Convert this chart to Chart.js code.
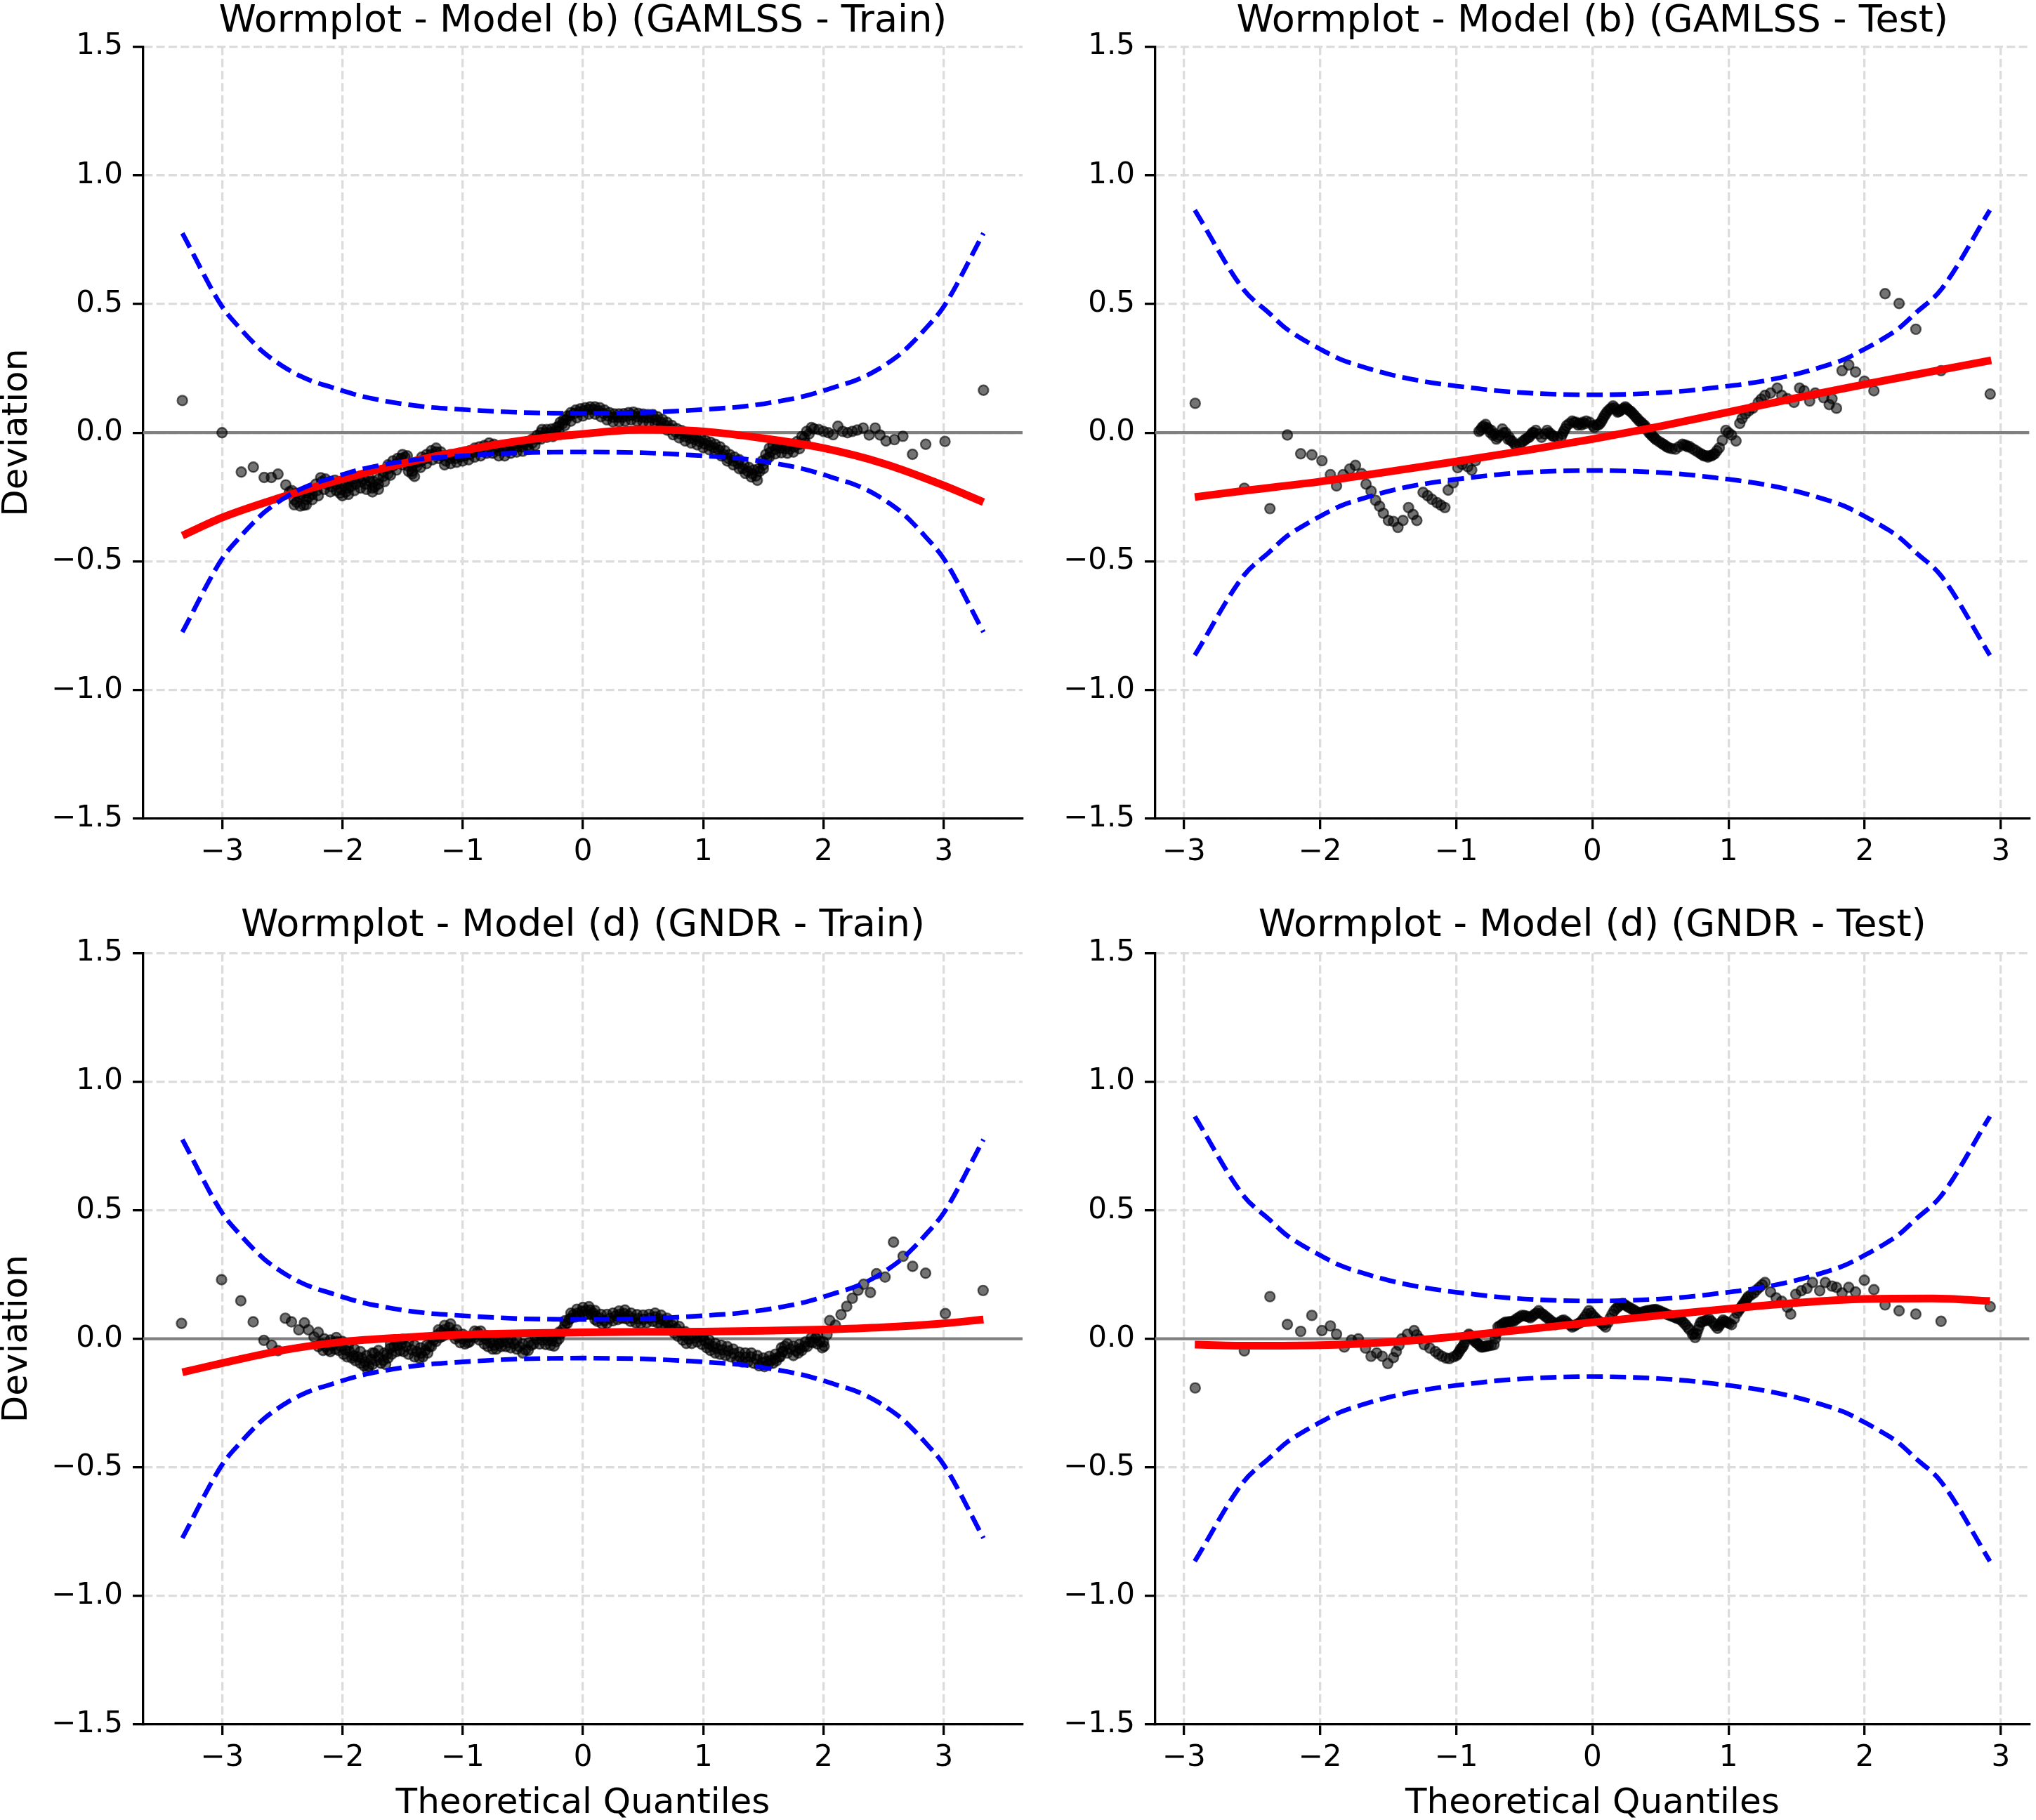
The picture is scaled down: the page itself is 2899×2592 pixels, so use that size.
<!DOCTYPE html>
<html>
<head>
<meta charset="utf-8">
<script src="https://cdn.jsdelivr.net/npm/chart.js@4.4.1/dist/chart.umd.min.js"></script>
<style>
html,body{margin:0;padding:0;background:#ffffff;}
#wrap{position:relative;width:2899px;height:2592px;background:#ffffff;overflow:hidden;}
canvas{position:absolute;display:block;}
</style>
</head>
<body>
<div id="wrap">
<canvas id="c0" width="1480" height="1290" style="left:0px;top:0px;width:1480px;height:1290px"></canvas>
<canvas id="c1" width="1419" height="1290" style="left:1480px;top:0px;width:1419px;height:1290px"></canvas>
<canvas id="c2" width="1480" height="1302" style="left:0px;top:1290px;width:1480px;height:1302px"></canvas>
<canvas id="c3" width="1419" height="1302" style="left:1480px;top:1290px;width:1419px;height:1302px"></canvas>
</div>
<script>
// ---------------- DATA ----------------
const panelTitles = [
  'Wormplot - Model (b) (GAMLSS - Train)',
  'Wormplot - Model (b) (GAMLSS - Test)',
  'Wormplot - Model (d) (GNDR - Train)',
  'Wormplot - Model (d) (GNDR - Test)'
];
const yAxisTitle = 'Deviation';
const xAxisTitle = 'Theoretical Quantiles';

const xTickValues = [-3, -2, -1, 0, 1, 2, 3];
const xTickLabels = ['\u22123', '\u22122', '\u22121', '0', '1', '2', '3'];
const yTickValues = [-1.5, -1.0, -0.5, 0, 0.5, 1.0, 1.5];
const yTickLabels = ['\u22121.5', '\u22121.0', '\u22120.5', '0.0', '0.5', '1.0', '1.5'];

const xRangeTrain = [-3.655, 3.655];
const xRangeTest = [-3.21, 3.21];
const yRange = [-1.5, 1.5];

// worm points [theoretical quantile, deviation]
const gamlssTrainPoints = [
[-3.33,0.125],[-3.00,0.0],[-2.84,-0.153],[-2.74,-0.134],[-2.65,-0.174],[-2.59,-0.174],[-2.535,-0.161],[-2.47,-0.203],
[-2.44,-0.23],[-2.40,-0.26],[-2.38,-0.27],[-2.36,-0.25],[-2.32,-0.282],[-2.30,-0.26],[-2.28,-0.25],[-2.25,-0.24],[-2.21,-0.225],[-2.17,-0.19],[-2.13,-0.20],[-2.09,-0.21],
[-2.05,-0.20],[-2.02,-0.235],[-2.01,-0.22],[-1.97,-0.23],[-1.95,-0.215],[-1.93,-0.21],[-1.89,-0.20],[-1.85,-0.19],[-1.81,-0.20],[-1.77,-0.19],[-1.75,-0.215],[-1.73,-0.21],
[-1.70,-0.20],[-1.66,-0.17],[-1.62,-0.14],[-1.62,-0.16],[-1.58,-0.13],[-1.55,-0.12],[-1.51,-0.10],[-1.48,-0.095],[-1.45,-0.13],[-1.42,-0.15],[-1.42,-0.16],[-1.38,-0.13],
[-1.34,-0.11],[-1.30,-0.10],[-1.26,-0.085],[-1.22,-0.075],[-1.18,-0.09],[-1.14,-0.11],[-1.10,-0.10],[-1.06,-0.10],[-1.02,-0.095],[-0.98,-0.09],[-0.94,-0.085],[-0.90,-0.075],
[-0.86,-0.07],[-0.82,-0.065],[-0.78,-0.055],[-0.74,-0.06],[-0.70,-0.07],[-0.66,-0.072],[-0.62,-0.065],[-0.58,-0.06],[-0.54,-0.055],[-0.50,-0.055],[-0.46,-0.05],[-0.42,-0.04],
[-0.38,-0.025],[-0.35,0.0],[-0.31,0.0],[-0.27,0.0],[-0.23,0.005],[-0.20,0.025],[-0.17,0.035],[-0.14,0.05],[-0.11,0.065],[-0.07,0.075],[-0.03,0.08],[0.01,0.085],
[0.05,0.09],[0.09,0.09],[0.13,0.085],[0.17,0.075],[0.21,0.065],[0.25,0.06],[0.29,0.06],[0.33,0.06],[0.37,0.065],[0.41,0.068],[0.45,0.062],[0.49,0.06],
[0.53,0.058],[0.57,0.058],[0.61,0.05],[0.65,0.04],[0.69,0.028],[0.73,0.015],[0.77,0.003],[0.81,-0.005],[0.85,-0.015],[0.89,-0.022],[0.93,-0.027],[0.97,-0.035],
[1.01,-0.043],[1.05,-0.05],[1.09,-0.058],[1.13,-0.068],[1.17,-0.085],[1.21,-0.10],[1.25,-0.11],[1.29,-0.12],[1.33,-0.14],[1.37,-0.15],[1.41,-0.16],[1.44,-0.168],
[1.47,-0.15],[1.50,-0.125],[1.53,-0.10],[1.56,-0.075],[1.60,-0.065],[1.64,-0.06],[1.68,-0.062],[1.72,-0.064],[1.76,-0.055],[1.80,-0.045],[1.84,-0.02],[1.88,-0.005],
[1.92,0.015],[1.96,0.012],[2.00,0.005],[2.04,0.0],[2.08,-0.008],[2.12,0.025],[2.16,0.005],[2.20,0.0],[2.24,0.005],[2.28,0.01],[2.33,0.018],[2.38,-0.009],
[2.43,0.018],[2.47,-0.009],[2.52,-0.032],[2.59,-0.027],[2.66,-0.014],
[2.74,-0.084],[2.85,-0.045],[3.01,-0.034],[3.33,0.165]
];
// upper and lower edges of the dense worm body
const gamlssTrainPointsEdge = [
[-2.42,-0.225],[-2.38,-0.235],[-2.34,-0.24],[-2.30,-0.235],[-2.26,-0.22],[-2.22,-0.20],[-2.18,-0.175],[-2.14,-0.18],[-2.10,-0.19],[-2.06,-0.185],
[-2.02,-0.195],[-1.98,-0.205],[-1.94,-0.19],[-1.90,-0.18],[-1.86,-0.175],[-1.82,-0.18],[-1.78,-0.175],[-1.74,-0.19],[-1.70,-0.18],[-1.66,-0.15],
[-1.62,-0.125],[-1.58,-0.11],[-1.54,-0.10],[-1.50,-0.085],[-1.46,-0.09],[-1.42,-0.13],[-1.38,-0.115],[-1.34,-0.095],[-1.30,-0.085],[-1.26,-0.07],
[-1.22,-0.06],[-1.18,-0.075],[-1.14,-0.09],[-1.10,-0.085],[-1.06,-0.085],[-1.02,-0.08],[-0.98,-0.075],[-0.94,-0.07],[-0.90,-0.06],[-0.86,-0.055],
[-0.82,-0.05],[-0.78,-0.04],[-0.74,-0.045],[-0.70,-0.055],[-0.66,-0.058],[-0.62,-0.05],[-0.58,-0.045],[-0.54,-0.04],[-0.50,-0.04],[-0.46,-0.035],
[-0.42,-0.025],[-0.38,-0.01],[-0.34,0.012],[-0.30,0.012],[-0.26,0.014],[-0.22,0.02],[-0.19,0.04],[-0.16,0.05],[-0.13,0.065],[-0.10,0.078],
[-0.06,0.088],[-0.02,0.093],[0.02,0.097],[0.06,0.10],[0.10,0.10],[0.14,0.097],[0.18,0.088],[0.22,0.078],[0.26,0.073],[0.30,0.073],
[0.34,0.074],[0.38,0.078],[0.42,0.08],[0.46,0.075],[0.50,0.072],[0.54,0.07],[0.58,0.07],[0.62,0.062],[0.66,0.052],[0.70,0.04],
[0.74,0.028],[0.78,0.016],[0.82,0.008],[0.86,-0.002],[0.90,-0.01],[0.94,-0.015],[0.98,-0.022],[1.02,-0.03],[1.06,-0.037],[1.10,-0.045],
[1.14,-0.055],[1.18,-0.07],[1.22,-0.085],[1.26,-0.095],[1.30,-0.105],[1.34,-0.125],[1.38,-0.135],[1.42,-0.145],[1.46,-0.14],[1.49,-0.11],
[1.52,-0.085],[1.55,-0.06],[1.58,-0.05],[1.62,-0.048],[1.66,-0.048],[1.70,-0.05],[1.74,-0.045],[1.78,-0.035],[1.82,-0.015],[1.86,0.005],[1.90,0.02]
];
const gamlssTrainPointsLow = [
[-2.40,-0.28],[-2.35,-0.285],[-2.30,-0.28],[-2.25,-0.26],[-2.20,-0.245],[-2.15,-0.22],[-2.10,-0.23],[-2.05,-0.225],[-2.00,-0.245],[-1.95,-0.24],
[-1.90,-0.225],[-1.85,-0.215],[-1.80,-0.22],[-1.75,-0.23],[-1.70,-0.22],[-1.65,-0.19],[-1.60,-0.165],[-1.55,-0.145],[-1.50,-0.125],[-1.45,-0.15],
[-1.40,-0.17],[-1.35,-0.135],[-1.30,-0.12],[-1.25,-0.105],[-1.20,-0.10],[-1.15,-0.125],[-1.10,-0.12],[-1.05,-0.115],[-1.00,-0.11],[-0.95,-0.105],
[-0.90,-0.095],[-0.85,-0.09],[-0.80,-0.08],[-0.75,-0.08],[-0.70,-0.09],[-0.65,-0.09],[-0.60,-0.08],[-0.55,-0.075],[-0.50,-0.072],[-0.45,-0.065],
[-0.40,-0.05],[-0.35,-0.025],[-0.30,-0.018],[-0.25,-0.015],[-0.20,0.005],[-0.15,0.028],[-0.10,0.045],[-0.05,0.058],[0.00,0.065],[0.05,0.072],
[0.10,0.072],[0.15,0.062],[0.20,0.05],[0.25,0.042],[0.30,0.042],[0.35,0.045],[0.40,0.05],[0.45,0.045],[0.50,0.042],[0.55,0.04],
[0.60,0.035],[0.65,0.022],[0.70,0.01],[0.75,-0.008],[0.80,-0.02],[0.85,-0.032],[0.90,-0.04],[0.95,-0.047],[1.00,-0.058],[1.05,-0.066],
[1.10,-0.075],[1.15,-0.09],[1.20,-0.11],[1.25,-0.125],[1.30,-0.14],[1.35,-0.158],[1.40,-0.172],[1.45,-0.185],[1.50,-0.14],[1.55,-0.095],
[1.60,-0.082],[1.65,-0.078],[1.70,-0.08],[1.75,-0.075],[1.80,-0.062],[1.85,-0.04]
];

const gamlssTestPoints = [
[-2.917,0.114],[-2.556,-0.216],[-2.368,-0.295],[-2.24,-0.009],[-2.142,-0.082],[-2.06,-0.086],[-1.986,-0.109],[-1.924,-0.163],[-1.879,-0.207],[-1.83,-0.163],
[-1.781,-0.141],[-1.74,-0.127],[-1.695,-0.159],[-1.662,-0.20],[-1.625,-0.227],[-1.592,-0.263],[-1.563,-0.286],[-1.535,-0.313],[-1.498,-0.341],[-1.461,-0.345],
[-1.428,-0.368],[-1.391,-0.341],[-1.35,-0.291],[-1.317,-0.318],[-1.289,-0.341],[-1.243,-0.232],[-1.21,-0.245],[-1.178,-0.259],[-1.141,-0.272],[-1.112,-0.282],
[-1.083,-0.291],[-1.059,-0.223],[-1.022,-0.195],[-0.989,-0.136],[-0.956,-0.123],[-0.915,-0.132],[-0.886,-0.145],[-0.858,-0.109],[-0.833,0.005],[-0.81,0.02],
[-0.784,0.032],[-0.763,0.015],[-0.743,0.009],[-0.718,-0.005],[-0.693,-0.018],[-0.661,0.014],[-0.636,0.0],[-0.611,-0.018],[-0.585,-0.035],[-0.558,-0.050],
[-0.517,-0.036],[-0.49,-0.025],[-0.464,-0.018],[-0.44,0.0],[-0.415,0.009],[-0.373,-0.018],[-0.332,0.009],[-0.305,-0.005],[-0.283,-0.014],[-0.23,-0.018],
[-0.21,0.005],[-0.189,0.027],[-0.148,0.045],[-0.12,0.04],[-0.094,0.036],[-0.07,0.04],[-0.045,0.045],[0.004,0.027],[0.03,0.03],[0.057,0.036],
[0.078,0.055],[0.098,0.073],[0.125,0.09],[0.152,0.104],[0.175,0.09],[0.193,0.082],[0.215,0.09],[0.242,0.10],[0.262,0.09],[0.283,0.082],
[0.308,0.068],[0.332,0.054],[0.36,0.04],[0.386,0.027],[0.405,0.01],[0.427,-0.005],[0.448,-0.016],[0.468,-0.027],[0.509,-0.041],[0.535,-0.05],
[0.562,-0.059],[0.611,-0.064],[0.661,-0.045],[0.69,-0.05],[0.714,-0.054],[0.755,-0.068],[0.796,-0.082],[0.82,-0.09],[0.849,-0.095],[0.875,-0.09],
[0.899,-0.082],[0.932,-0.059],[0.981,0.009],[1.022,-0.009],[1.055,-0.032],[1.083,0.036],[1.10,0.055],[1.124,0.073],[1.15,0.085],[1.178,0.095],
[1.219,0.118],[1.24,0.13],[1.268,0.145],[1.309,0.154],[1.358,0.173],[1.391,0.145],[1.432,0.132],[1.481,0.118],[1.522,0.173],[1.555,0.163],
[1.596,0.123],[1.637,0.154],[1.699,0.136],[1.74,0.109],[1.76,0.132],[1.793,0.095],[1.834,0.241],[1.883,0.263],[1.933,0.236],[1.998,0.200],
[2.068,0.163],[2.15,0.540],[2.253,0.502],[2.376,0.402],[2.561,0.241],[2.922,0.150]
];
const gamlssTestPointsEdge = [
[-0.82,0.01],[-0.80,0.025],[-0.775,0.02],[-0.75,0.0],[-0.73,-0.01],[-0.705,-0.025],[-0.68,-0.01],[-0.65,0.0],[-0.62,-0.025],[-0.60,-0.03],
[-0.57,-0.045],[-0.535,-0.045],[-0.50,-0.03],[-0.475,-0.02],[-0.45,-0.008],[-0.43,0.0],[-0.395,-0.005],[-0.35,-0.005],[-0.32,0.0],[-0.295,-0.012],
[-0.255,-0.02],[-0.22,-0.005],[-0.20,0.015],[-0.17,0.035],[-0.135,0.04],[-0.105,0.03],[-0.08,0.03],[-0.055,0.035],[-0.02,0.04],[0.015,0.02],
[0.045,0.03],[0.068,0.045],[0.088,0.065],[0.11,0.082],[0.138,0.095],[0.163,0.097],[0.185,0.08],[0.205,0.085],[0.23,0.095],[0.252,0.095],
[0.273,0.085],[0.295,0.075],[0.32,0.06],[0.345,0.045],[0.373,0.032],[0.395,0.018],[0.416,0.0],[0.438,-0.012],[0.458,-0.022],[0.49,-0.035],
[0.52,-0.045],[0.548,-0.055],[0.585,-0.062],[0.635,-0.055],[0.675,-0.048],[0.70,-0.055],[0.735,-0.062],[0.775,-0.075],[0.808,-0.086],[0.835,-0.09],
[0.862,-0.09],[0.887,-0.085],[0.915,-0.07],[0.955,-0.03],[1.0,0.0]
];

const gndrTrainPoints = [
[-3.337,0.060],[-3.004,0.230],[-2.844,0.148],[-2.741,0.066],[-2.652,-0.006],[-2.587,-0.025],[-2.535,-0.046],[-2.474,0.080],[-2.423,0.066],[-2.362,0.035],
[-2.315,0.062],[-2.282,0.035],[-2.235,0.007],[-2.174,-0.020],[-2.14,-0.03],[-2.118,-0.043],[-2.08,-0.025],[-2.048,-0.011],[-2.01,-0.03],[-1.977,-0.043],
[-1.94,-0.05],[-1.907,-0.066],[-1.87,-0.07],[-1.837,-0.075],[-1.81,-0.09],[-1.781,-0.107],[-1.76,-0.08],[-1.734,-0.056],[-1.70,-0.07],[-1.659,-0.084],
[-1.63,-0.06],[-1.603,-0.038],[-1.57,-0.03],[-1.54,-0.025],[-1.509,-0.020],[-1.47,-0.03],[-1.424,-0.043],[-1.38,-0.05],[-1.345,-0.056],[-1.31,-0.045],
[-1.275,-0.029],[-1.24,-0.005],[-1.21,0.015],[-1.181,0.026],[-1.15,0.035],[-1.111,0.044],[-1.075,0.025],[-1.04,0.007],[-1.0,0.0],[-0.956,-0.015],
[-0.92,0.01],[-0.876,0.026],[-0.84,0.01],[-0.806,-0.002],[-0.77,-0.015],[-0.736,-0.025],[-0.70,-0.02],[-0.665,-0.011],[-0.62,-0.015],[-0.572,-0.020],
[-0.53,-0.03],[-0.478,-0.043],[-0.43,-0.025],[-0.384,-0.002],[-0.34,-0.005],[-0.291,-0.006],[-0.255,-0.008],[-0.22,-0.011],[-0.185,0.02],[-0.15,0.053],
[-0.115,0.075],[-0.08,0.094],[-0.045,0.10],[-0.009,0.107],[0.025,0.11],[0.061,0.112],[0.085,0.10],[0.108,0.089],[0.14,0.08],[0.178,0.071],
[0.225,0.08],[0.272,0.089],[0.307,0.095],[0.342,0.098],[0.377,0.09],[0.412,0.080],[0.46,0.078],[0.506,0.076],[0.553,0.08],[0.60,0.085],
[0.635,0.078],[0.67,0.071],[0.705,0.062],[0.74,0.053],[0.775,0.04],[0.81,0.026],[0.845,0.012],[0.881,-0.002],[0.93,0.003],[0.975,0.007],
[1.01,-0.007],[1.045,-0.020],[1.08,-0.03],[1.115,-0.038],[1.16,-0.043],[1.209,-0.047],[1.256,-0.058],[1.303,-0.070],[1.35,-0.072],[1.396,-0.070],
[1.443,-0.08],[1.49,-0.093],[1.525,-0.088],[1.56,-0.084],[1.595,-0.078],[1.631,-0.070],[1.655,-0.05],[1.678,-0.029],[1.725,-0.04],[1.771,-0.047],
[1.805,-0.038],[1.842,-0.029],[1.89,-0.012],[1.935,0.003],[1.97,-0.01],[2.006,-0.029],[2.029,0.016],[2.052,0.071],[2.099,0.053],[2.146,0.094],
[2.193,0.126],[2.24,0.158],[2.287,0.189],[2.334,0.212],[2.39,0.180],[2.441,0.253],[2.512,0.240],[2.582,0.376],[2.662,0.321],[2.741,0.282],
[2.849,0.255],[3.013,0.098],[3.327,0.188]
];
const gndrTrainPointsEdge = [
[-2.20,-0.03],[-2.16,-0.045],[-2.10,-0.05],[-2.06,-0.04],[-2.03,-0.045],[-1.99,-0.06],[-1.96,-0.07],[-1.92,-0.075],[-1.89,-0.085],[-1.85,-0.095],
[-1.82,-0.105],[-1.79,-0.12],[-1.75,-0.10],[-1.72,-0.085],[-1.68,-0.095],[-1.64,-0.10],[-1.62,-0.075],[-1.59,-0.06],[-1.55,-0.05],[-1.52,-0.045],
[-1.49,-0.05],[-1.45,-0.06],[-1.40,-0.07],[-1.36,-0.075],[-1.33,-0.07],[-1.29,-0.055],[-1.26,-0.03],[-1.22,-0.01],[-1.19,0.005],[-1.165,0.01],
[-1.13,0.02],[-1.09,0.02],[-1.06,0.0],[-1.02,-0.015],[-0.98,-0.02],[-0.94,-0.01],[-0.90,0.005],[-0.86,-0.005],[-0.82,-0.02],[-0.79,-0.03],
[-0.75,-0.04],[-0.72,-0.04],[-0.68,-0.03],[-0.64,-0.03],[-0.60,-0.035],[-0.55,-0.04],[-0.50,-0.055],[-0.455,-0.045],[-0.41,-0.02],[-0.36,-0.02],
[-0.31,-0.022],[-0.27,-0.025],[-0.24,-0.028],[-0.20,0.0],[-0.17,0.035],[-0.13,0.06],[-0.10,0.08],[-0.06,0.085],[-0.03,0.09],[0.01,0.093],
[0.04,0.095],[0.07,0.095],[0.10,0.075],[0.12,0.068],[0.16,0.058],[0.20,0.06],[0.25,0.07],[0.29,0.075],[0.325,0.08],[0.36,0.078],
[0.395,0.068],[0.44,0.062],[0.48,0.06],[0.53,0.062],[0.58,0.068],[0.62,0.062],[0.65,0.055],[0.69,0.045],[0.72,0.035],[0.76,0.022],
[0.79,0.01],[0.83,-0.005],[0.86,-0.018],[0.905,-0.018],[0.95,-0.012],[0.99,-0.022],[1.03,-0.035],[1.06,-0.045],[1.10,-0.055],[1.14,-0.06],
[1.185,-0.065],[1.23,-0.07],[1.28,-0.085],[1.325,-0.09],[1.37,-0.09],[1.42,-0.095],[1.465,-0.105],[1.51,-0.108],[1.54,-0.10],[1.58,-0.095],
[1.61,-0.085],[1.64,-0.07],[1.665,-0.05],[1.70,-0.055],[1.75,-0.065],[1.79,-0.055],[1.82,-0.045],[1.865,-0.03],[1.91,-0.015],[1.95,-0.02],[1.99,-0.035]
];
const gndrTrainPointsHigh = [
[-2.20,0.025],[-2.15,0.0],[-2.10,-0.005],[-2.05,0.005],[-2.00,-0.01],[-1.95,-0.025],[-1.90,-0.04],[-1.85,-0.05],[-1.80,-0.065],[-1.75,-0.055],
[-1.70,-0.045],[-1.65,-0.055],[-1.60,-0.02],[-1.55,-0.008],[-1.50,-0.002],[-1.45,-0.012],[-1.40,-0.025],[-1.35,-0.035],[-1.30,-0.025],[-1.25,0.005],
[-1.20,0.035],[-1.15,0.052],[-1.10,0.058],[-1.05,0.035],[-1.00,0.018],[-0.95,0.005],[-0.90,0.03],[-0.85,0.03],[-0.80,0.012],[-0.75,0.0],
[-0.70,-0.002],[-0.65,0.005],[-0.60,0.0],[-0.55,-0.005],[-0.50,-0.02],[-0.45,-0.015],[-0.40,0.012],[-0.35,0.012],[-0.30,0.01],[-0.25,0.008],
[-0.20,0.025],[-0.15,0.07],[-0.10,0.10],[-0.05,0.115],[0.00,0.122],[0.05,0.125],[0.10,0.11],[0.15,0.095],[0.20,0.095],[0.25,0.10],
[0.30,0.108],[0.35,0.112],[0.40,0.10],[0.45,0.094],[0.50,0.092],[0.55,0.095],[0.60,0.10],[0.65,0.092],[0.70,0.08],[0.75,0.068],
[0.80,0.048],[0.85,0.028],[0.90,0.015],[0.95,0.02],[1.00,0.01],[1.05,-0.005],[1.10,-0.018],[1.15,-0.025],[1.20,-0.03],[1.25,-0.04],
[1.30,-0.052],[1.35,-0.055],[1.40,-0.055],[1.45,-0.065],[1.50,-0.075],[1.55,-0.068],[1.60,-0.06],[1.65,-0.035],[1.70,-0.02],[1.75,-0.028],
[1.80,-0.022],[1.85,-0.012],[1.90,0.005],[1.95,0.015],[2.00,-0.012]
];

const gndrTestPoints = [
[-2.917,-0.191],[-2.556,-0.047],[-2.368,0.164],[-2.24,0.056],[-2.142,0.029],[-2.06,0.091],[-1.986,0.032],[-1.924,0.050],[-1.879,0.018],[-1.822,-0.032],
[-1.769,-0.005],[-1.719,0.0],[-1.666,-0.036],[-1.625,-0.068],[-1.584,-0.055],[-1.543,-0.068],[-1.502,-0.096],[-1.461,-0.073],[-1.44,-0.050],[-1.42,-0.025],
[-1.399,0.0],[-1.358,0.018],[-1.309,0.032],[-1.29,0.015],[-1.268,0.0],[-1.235,-0.023],[-1.194,-0.036],[-1.153,-0.050],[-1.13,-0.06],[-1.104,-0.068],
[-1.075,-0.075],[-1.05,-0.077],[-1.02,-0.07],[-0.989,-0.059],[-0.968,-0.04],[-0.948,-0.027],[-0.928,0.0],[-0.907,0.018],[-0.886,0.005],[-0.866,-0.009],
[-0.84,-0.02],[-0.817,-0.032],[-0.79,-0.03],[-0.763,-0.027],[-0.722,-0.023],[-0.705,0.02],[-0.693,0.046],[-0.665,0.055],[-0.64,0.064],[-0.61,0.066],
[-0.579,0.068],[-0.55,0.08],[-0.517,0.091],[-0.485,0.088],[-0.455,0.082],[-0.425,0.095],[-0.394,0.109],[-0.362,0.095],[-0.332,0.082],[-0.30,0.068],
[-0.271,0.055],[-0.24,0.065],[-0.209,0.073],[-0.178,0.06],[-0.148,0.046],[-0.118,0.055],[-0.086,0.064],[-0.055,0.085],[-0.025,0.109],[0.005,0.09],
[0.037,0.073],[0.068,0.06],[0.098,0.046],[0.13,0.08],[0.16,0.109],[0.19,0.125],[0.222,0.137],[0.25,0.128],[0.283,0.118],[0.315,0.108],
[0.345,0.100],[0.375,0.105],[0.406,0.109],[0.437,0.112],[0.468,0.114],[0.5,0.107],[0.529,0.100],[0.56,0.093],[0.591,0.087],[0.622,0.08],
[0.652,0.073],[0.685,0.055],[0.714,0.036],[0.735,0.018],[0.755,0.005],[0.775,0.035],[0.796,0.064],[0.828,0.07],[0.858,0.077],[0.89,0.06],
[0.919,0.041],[0.94,0.057],[0.96,0.073],[0.99,0.064],[1.022,0.055],[1.063,0.100],[1.085,0.118],[1.104,0.132],[1.125,0.148],[1.145,0.164],
[1.186,0.178],[1.227,0.200],[1.268,0.219],[1.309,0.182],[1.35,0.159],[1.391,0.146],[1.432,0.123],[1.457,0.096],[1.494,0.173],[1.535,0.187],
[1.576,0.196],[1.617,0.219],[1.67,0.187],[1.711,0.219],[1.76,0.205],[1.793,0.200],[1.834,0.178],[1.883,0.200],[1.933,0.182],[1.998,0.228],
[2.068,0.191],[2.15,0.132],[2.253,0.109],[2.376,0.096],[2.561,0.068],[2.922,0.125]
];
const gndrTestPointsEdge = [
[-0.998,-0.065],[-0.978,-0.05],[-0.958,-0.035],[-0.938,-0.015],[-0.918,0.01],[-0.896,0.012],[-0.876,-0.002],[-0.853,-0.015],[-0.83,-0.025],[-0.805,-0.032],
[-0.776,-0.028],[-0.742,-0.025],[-0.713,0.0],[-0.68,0.05],[-0.652,0.06],[-0.625,0.065],[-0.595,0.067],[-0.565,0.074],[-0.533,0.085],[-0.50,0.09],
[-0.47,0.085],[-0.44,0.088],[-0.41,0.10],[-0.378,0.10],[-0.347,0.088],[-0.316,0.075],[-0.285,0.062],[-0.255,0.06],[-0.225,0.07],[-0.193,0.067],
[-0.163,0.053],[-0.133,0.05],[-0.10,0.06],[-0.07,0.075],[-0.04,0.097],[-0.01,0.10],[0.02,0.082],[0.052,0.067],[0.083,0.053],[0.115,0.063],
[0.145,0.095],[0.175,0.118],[0.206,0.131],[0.236,0.133],[0.266,0.123],[0.30,0.113],[0.33,0.104],[0.36,0.102],[0.39,0.107],[0.42,0.11],
[0.452,0.113],[0.484,0.11],[0.515,0.103],[0.545,0.096],[0.575,0.09],[0.606,0.083],[0.637,0.077],[0.668,0.064],[0.70,0.045],[0.745,0.02],
[0.765,0.02],[0.785,0.05],[0.81,0.067],[0.843,0.073],[0.874,0.068],[0.905,0.05],[0.93,0.05],[0.95,0.065],[0.975,0.068],[1.006,0.06],
[1.043,0.078],[1.075,0.11],[1.095,0.125],[1.115,0.14],[1.135,0.156],[1.165,0.171],[1.206,0.19],[1.248,0.21]
];

// fitted (red) curves
const gamlssTrainFitX = [-3.33,-3.0,-2.5,-2.0,-1.5,-1.0,-0.5,0,0.5,1.0,1.5,2.0,2.5,3.0,3.33];
const gamlssTrainFitY = [-0.40,-0.33,-0.25,-0.18,-0.12,-0.07,-0.03,-0.005,0.012,0.005,-0.022,-0.06,-0.12,-0.205,-0.27];
const gamlssTestFitX = [-2.92,-2.5,-2.0,-1.5,-1.0,-0.5,0,0.5,1.0,1.5,2.0,2.5,2.93];
const gamlssTestFitY = [-0.25,-0.222,-0.19,-0.152,-0.112,-0.07,-0.025,0.025,0.08,0.135,0.188,0.238,0.281];
const gndrTrainFitX = [-3.33,-3.0,-2.5,-2.0,-1.5,-1.0,-0.5,0,0.5,1.0,1.5,2.0,2.5,3.0,3.33];
const gndrTrainFitY = [-0.13,-0.095,-0.045,-0.012,0.005,0.016,0.022,0.025,0.027,0.028,0.031,0.036,0.045,0.06,0.075];
const gndrTestFitX = [-2.92,-2.5,-2.0,-1.5,-1.0,-0.5,0,0.5,1.0,1.5,2.0,2.5,2.92];
const gndrTestFitY = [-0.023,-0.027,-0.025,-0.013,0.009,0.036,0.064,0.091,0.117,0.14,0.155,0.157,0.147];

// confidence bands (upper; lower is the mirror below zero)
const trainBandX = [-3.33,-3.0,-2.84,-2.74,-2.65,-2.55,-2.45,-2.35,-2.25,-2.1,-2.0,-1.85,-1.7,-1.5,-1.3,-1.1,-0.9,-0.7,-0.5,-0.25,0,
                    0.25,0.5,0.7,0.9,1.1,1.3,1.5,1.7,1.85,2.0,2.1,2.25,2.35,2.45,2.55,2.65,2.74,2.84,3.0,3.33];
const trainBandUpper = [0.775,0.49,0.40,0.35,0.31,0.275,0.245,0.22,0.20,0.178,0.163,0.143,0.128,0.112,0.100,0.093,0.087,0.082,0.078,0.076,0.075,
                        0.076,0.078,0.082,0.087,0.093,0.100,0.112,0.128,0.143,0.163,0.178,0.20,0.22,0.245,0.275,0.31,0.35,0.40,0.49,0.775];
const testBandX = [-2.92,-2.56,-2.375,-2.25,-2.15,-2.0,-1.85,-1.7,-1.5,-1.3,-1.1,-0.9,-0.7,-0.5,-0.25,0,
                   0.25,0.5,0.7,0.9,1.1,1.3,1.5,1.7,1.85,2.0,2.15,2.25,2.375,2.56,2.92];
const testBandUpper = [0.865,0.555,0.465,0.405,0.37,0.325,0.285,0.258,0.228,0.205,0.188,0.175,0.163,0.155,0.149,0.147,
                       0.149,0.155,0.163,0.175,0.188,0.205,0.228,0.258,0.285,0.325,0.37,0.405,0.465,0.555,0.865];

// ---------------- RENDERING ----------------
const FONT = 'DejaVu Sans';
Chart.defaults.font.family = FONT;
Chart.defaults.color = '#000000';

function pairs(list) { return list.map(p => ({x: p[0], y: p[1]})); }
function zip(xs, ys, sign) { return xs.map((x, i) => ({x: x, y: (sign || 1) * ys[i]})); }
function tickLabel(vals, labs, v) {
  for (let i = 0; i < vals.length; i++) if (Math.abs(vals[i] - v) < 1e-6) return labs[i];
  return '';
}

const panels = [
  {id:'c0', title:panelTitles[0], pts:gamlssTrainPoints.concat(gamlssTrainPointsEdge, gamlssTrainPointsLow), fx:gamlssTrainFitX, fy:gamlssTrainFitY,
   bx:trainBandX, by:trainBandUpper, xr:xRangeTrain,
   padR:24, padT:8.9, titlePadB:14.3, yW:204, xH:124, showY:true, showX:false},
  {id:'c1', title:panelTitles[1], pts:gamlssTestPoints.concat(gamlssTestPointsEdge), fx:gamlssTestFitX, fy:gamlssTestFitY,
   bx:testBandX, by:testBandUpper, xr:xRangeTest,
   padR:2, padT:8.9, titlePadB:14.3, yW:165, xH:124, showY:false, showX:false},
  {id:'c2', title:panelTitles[2], pts:gndrTrainPoints.concat(gndrTrainPointsEdge, gndrTrainPointsHigh), fx:gndrTrainFitX, fy:gndrTrainFitY,
   bx:trainBandX, by:trainBandUpper, xr:xRangeTrain,
   padR:24, padT:7.0, titlePadB:17.2, yW:204, xH:136, showY:true, showX:true},
  {id:'c3', title:panelTitles[3], pts:gndrTestPoints.concat(gndrTestPointsEdge), fx:gndrTestFitX, fy:gndrTestFitY,
   bx:testBandX, by:testBandUpper, xr:xRangeTest,
   padR:2, padT:7.0, titlePadB:17.2, yW:165, xH:136, showY:false, showX:true}
];

const GRID = '#dcdcdc';
const LW = 3.3;

panels.forEach(p => {
  new Chart(document.getElementById(p.id), {
    type: 'scatter',
    data: {
      datasets: [
        { label:'zero', data:[{x:p.xr[0], y:0}, {x:p.xr[1], y:0}], showLine:true,
          borderColor:'#808080', borderWidth:4.2, pointRadius:0, pointHoverRadius:0, order:4 },
        { label:'points', data:pairs(p.pts), showLine:false,
          pointRadius:7.0, pointBorderWidth:2.4, pointHoverRadius:7.0,
          pointBackgroundColor:'rgba(0,0,0,0.55)', pointBorderColor:'rgba(0,0,0,0.6)',
          backgroundColor:'rgba(0,0,0,0.55)', borderColor:'rgba(0,0,0,0.6)', order:3 },
        { label:'fit', data:zip(p.fx, p.fy), showLine:true, borderColor:'#ff0000', borderWidth:11,
          pointRadius:0, pointHoverRadius:0, cubicInterpolationMode:'monotone', order:2 },
        { label:'upper', data:zip(p.bx, p.by), showLine:true, borderColor:'#0000ff', borderWidth:6.6,
          borderDash:[23, 10], pointRadius:0, pointHoverRadius:0, cubicInterpolationMode:'monotone', order:1 },
        { label:'lower', data:zip(p.bx, p.by, -1), showLine:true, borderColor:'#0000ff', borderWidth:6.6,
          borderDash:[23, 10], pointRadius:0, pointHoverRadius:0, cubicInterpolationMode:'monotone', order:1 }
      ]
    },
    options: {
      responsive:false, animation:false, devicePixelRatio:1, events:[],
      layout:{ padding:{ left:0, right:p.padR, top:p.padT, bottom:0 } },
      plugins:{
        legend:{ display:false }, tooltip:{ enabled:false },
        title:{ display:true, fullSize:false, text:p.title, color:'#000000',
                font:{ family:FONT, size:54, weight:'normal', lineHeight:0.8 },
                padding:{ top:0, bottom:p.titlePadB } }
      },
      scales:{
        x:{ type:'linear', position:'bottom', min:p.xr[0], max:p.xr[1],
            afterFit:(s) => { s.height = p.xH; },
            ticks:{ stepSize:1, includeBounds:false, autoSkip:false, maxRotation:0, minRotation:0,
                    color:'#000000', padding:8, font:{ family:FONT, size:42 },
                    callback:(v) => tickLabel(xTickValues, xTickLabels, v) },
            grid:{ color:GRID, lineWidth:LW, tickLength:15, tickColor:'#000000', tickWidth:LW,
                   tickBorderDash:[], drawTicks:true, drawOnChartArea:true },
            border:{ display:true, color:'#000000', width:LW, dash:[12, 5.3] },
            title:{ display:p.showX, text:xAxisTitle, color:'#000000',
                    font:{ family:FONT, size:50, lineHeight:0.92 }, padding:{ top:0, bottom:0 } } },
        y:{ type:'linear', position:'left', min:yRange[0], max:yRange[1],
            afterFit:(s) => { s.width = p.yW; },
            ticks:{ stepSize:0.5, includeBounds:false, autoSkip:false, color:'#000000', padding:14,
                    font:{ family:FONT, size:42 },
                    callback:(v) => tickLabel(yTickValues, yTickLabels, v) },
            grid:{ color:GRID, lineWidth:LW, tickLength:15, tickColor:'#000000', tickWidth:LW,
                   tickBorderDash:[], drawTicks:true, drawOnChartArea:true },
            border:{ display:true, color:'#000000', width:LW, dash:[12, 5.3] },
            title:{ display:p.showY, text:yAxisTitle, color:'#000000',
                    font:{ family:FONT, size:50, lineHeight:0.9 }, padding:{ top:3, bottom:0 } } }
      }
    }
  });
});
</script>
</body>
</html>
